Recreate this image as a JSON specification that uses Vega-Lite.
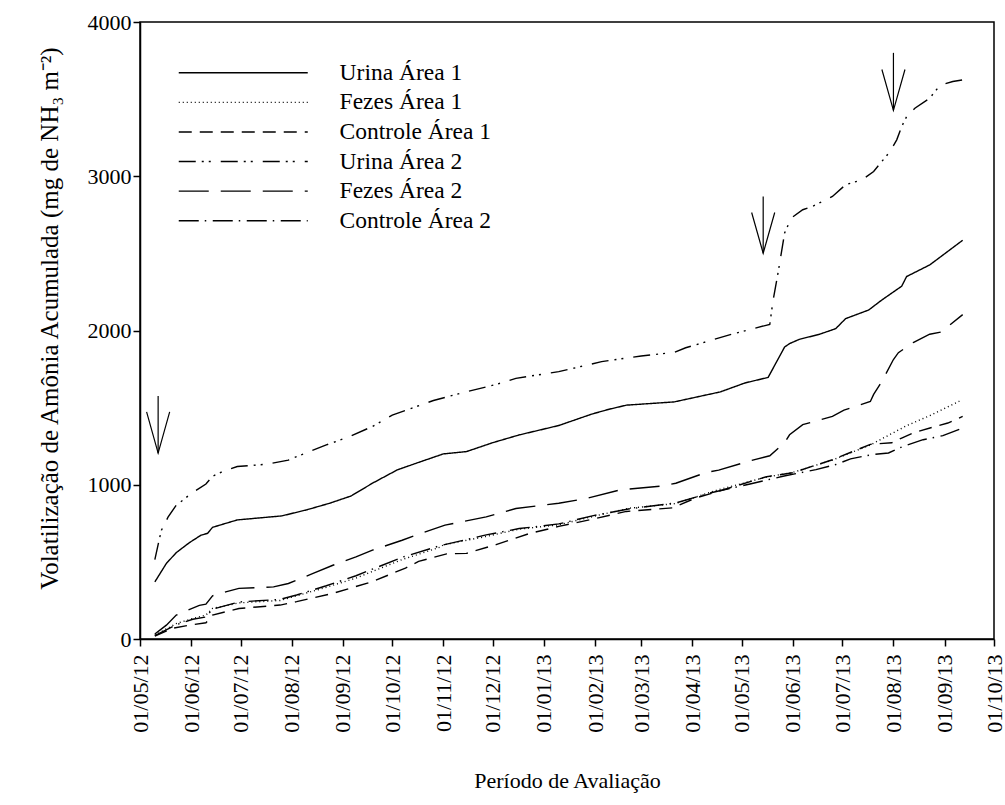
{
  "$schema": "https://vega.github.io/schema/vega-lite/v6.json",
  "autosize": {"type": "none"},
  "padding": {"left": 140, "top": 22, "right": 11, "bottom": 166},
  "width": 854,
  "height": 617,
  "background": "white",
  "view": {"stroke": "black", "strokeWidth": 1.5},
  "config": {
    "font": "'Liberation Serif', 'Times New Roman', serif",
    "axis": {
      "grid": false,
      "domainColor": "black",
      "domainWidth": 1.5,
      "tickColor": "black",
      "tickWidth": 1.5,
      "tickSize": 7,
      "labelFont": "'Liberation Serif', 'Times New Roman', serif",
      "labelFontSize": 22,
      "labelColor": "black",
      "titleFont": "'Liberation Serif', 'Times New Roman', serif",
      "titleFontSize": 22,
      "titleFontWeight": "normal",
      "titleColor": "black"
    },
    "legend": {
      "labelFont": "'Liberation Serif', 'Times New Roman', serif",
      "labelFontSize": 23.5,
      "labelColor": "black"
    }
  },
  "datasets": {
    "series": [
      {"s": "Urina Área 1", "d": "2012-05-10", "v": 370},
      {"s": "Urina Área 1", "d": "2012-05-17", "v": 490},
      {"s": "Urina Área 1", "d": "2012-05-23", "v": 560},
      {"s": "Urina Área 1", "d": "2012-05-31", "v": 625},
      {"s": "Urina Área 1", "d": "2012-06-07", "v": 673},
      {"s": "Urina Área 1", "d": "2012-06-11", "v": 685},
      {"s": "Urina Área 1", "d": "2012-06-14", "v": 724},
      {"s": "Urina Área 1", "d": "2012-06-29", "v": 772},
      {"s": "Urina Área 1", "d": "2012-07-26", "v": 798},
      {"s": "Urina Área 1", "d": "2012-08-10", "v": 837},
      {"s": "Urina Área 1", "d": "2012-08-24", "v": 880},
      {"s": "Urina Área 1", "d": "2012-09-06", "v": 927},
      {"s": "Urina Área 1", "d": "2012-09-19", "v": 1010},
      {"s": "Urina Área 1", "d": "2012-10-04", "v": 1096},
      {"s": "Urina Área 1", "d": "2012-10-17", "v": 1145},
      {"s": "Urina Área 1", "d": "2012-11-01", "v": 1200},
      {"s": "Urina Área 1", "d": "2012-11-15", "v": 1215},
      {"s": "Urina Área 1", "d": "2012-12-01", "v": 1273},
      {"s": "Urina Área 1", "d": "2012-12-17", "v": 1323},
      {"s": "Urina Área 1", "d": "2013-01-10", "v": 1384},
      {"s": "Urina Área 1", "d": "2013-01-30", "v": 1458},
      {"s": "Urina Área 1", "d": "2013-02-09", "v": 1488},
      {"s": "Urina Área 1", "d": "2013-02-20", "v": 1516},
      {"s": "Urina Área 1", "d": "2013-03-21", "v": 1537},
      {"s": "Urina Área 1", "d": "2013-04-18", "v": 1602},
      {"s": "Urina Área 1", "d": "2013-05-03", "v": 1660},
      {"s": "Urina Área 1", "d": "2013-05-17", "v": 1696},
      {"s": "Urina Área 1", "d": "2013-05-27", "v": 1893},
      {"s": "Urina Área 1", "d": "2013-05-30", "v": 1915},
      {"s": "Urina Área 1", "d": "2013-06-05", "v": 1943},
      {"s": "Urina Área 1", "d": "2013-06-17", "v": 1975},
      {"s": "Urina Área 1", "d": "2013-06-27", "v": 2012},
      {"s": "Urina Área 1", "d": "2013-07-03", "v": 2077},
      {"s": "Urina Área 1", "d": "2013-07-17", "v": 2133},
      {"s": "Urina Área 1", "d": "2013-07-25", "v": 2198},
      {"s": "Urina Área 1", "d": "2013-08-01", "v": 2250},
      {"s": "Urina Área 1", "d": "2013-08-06", "v": 2287},
      {"s": "Urina Área 1", "d": "2013-08-09", "v": 2350},
      {"s": "Urina Área 1", "d": "2013-08-23", "v": 2425},
      {"s": "Urina Área 1", "d": "2013-09-12", "v": 2585},

      {"s": "Fezes Área 1", "d": "2012-05-10", "v": 25},
      {"s": "Fezes Área 1", "d": "2012-05-23", "v": 100},
      {"s": "Fezes Área 1", "d": "2012-06-02", "v": 133},
      {"s": "Fezes Área 1", "d": "2012-06-10", "v": 155},
      {"s": "Fezes Área 1", "d": "2012-06-14", "v": 198},
      {"s": "Fezes Área 1", "d": "2012-06-30", "v": 234},
      {"s": "Fezes Área 1", "d": "2012-07-25", "v": 250},
      {"s": "Fezes Área 1", "d": "2012-08-04", "v": 280},
      {"s": "Fezes Área 1", "d": "2012-08-22", "v": 335},
      {"s": "Fezes Área 1", "d": "2012-09-09", "v": 395},
      {"s": "Fezes Área 1", "d": "2012-09-23", "v": 455},
      {"s": "Fezes Área 1", "d": "2012-10-07", "v": 515},
      {"s": "Fezes Área 1", "d": "2012-10-30", "v": 595},
      {"s": "Fezes Área 1", "d": "2012-11-01", "v": 610},
      {"s": "Fezes Área 1", "d": "2012-11-27", "v": 665},
      {"s": "Fezes Área 1", "d": "2012-12-17", "v": 712},
      {"s": "Fezes Área 1", "d": "2013-01-10", "v": 740},
      {"s": "Fezes Área 1", "d": "2013-01-31", "v": 795},
      {"s": "Fezes Área 1", "d": "2013-02-22", "v": 848},
      {"s": "Fezes Área 1", "d": "2013-03-22", "v": 878},
      {"s": "Fezes Área 1", "d": "2013-04-13", "v": 955},
      {"s": "Fezes Área 1", "d": "2013-04-17", "v": 968},
      {"s": "Fezes Área 1", "d": "2013-05-16", "v": 1050},
      {"s": "Fezes Área 1", "d": "2013-06-01", "v": 1080},
      {"s": "Fezes Área 1", "d": "2013-06-25", "v": 1160},
      {"s": "Fezes Área 1", "d": "2013-07-18", "v": 1258},
      {"s": "Fezes Área 1", "d": "2013-08-09", "v": 1383},
      {"s": "Fezes Área 1", "d": "2013-08-23", "v": 1448},
      {"s": "Fezes Área 1", "d": "2013-09-10", "v": 1542},

      {"s": "Controle Área 1", "d": "2012-05-10", "v": 18},
      {"s": "Controle Área 1", "d": "2012-05-21", "v": 70},
      {"s": "Controle Área 1", "d": "2012-05-31", "v": 90},
      {"s": "Controle Área 1", "d": "2012-06-10", "v": 105},
      {"s": "Controle Área 1", "d": "2012-06-14", "v": 155},
      {"s": "Controle Área 1", "d": "2012-06-30", "v": 198},
      {"s": "Controle Área 1", "d": "2012-07-25", "v": 220},
      {"s": "Controle Área 1", "d": "2012-08-04", "v": 242},
      {"s": "Controle Área 1", "d": "2012-08-26", "v": 296},
      {"s": "Controle Área 1", "d": "2012-09-19", "v": 372},
      {"s": "Controle Área 1", "d": "2012-10-09", "v": 460},
      {"s": "Controle Área 1", "d": "2012-10-17", "v": 503},
      {"s": "Controle Área 1", "d": "2012-11-03", "v": 552},
      {"s": "Controle Área 1", "d": "2012-11-15", "v": 555},
      {"s": "Controle Área 1", "d": "2012-12-03", "v": 612},
      {"s": "Controle Área 1", "d": "2012-12-23", "v": 683},
      {"s": "Controle Área 1", "d": "2013-01-10", "v": 730},
      {"s": "Controle Área 1", "d": "2013-01-31", "v": 778},
      {"s": "Controle Área 1", "d": "2013-02-20", "v": 827},
      {"s": "Controle Área 1", "d": "2013-03-20", "v": 850},
      {"s": "Controle Área 1", "d": "2013-04-03", "v": 914},
      {"s": "Controle Área 1", "d": "2013-04-17", "v": 958},
      {"s": "Controle Área 1", "d": "2013-05-16", "v": 1052},
      {"s": "Controle Área 1", "d": "2013-06-01", "v": 1078},
      {"s": "Controle Área 1", "d": "2013-06-25", "v": 1162},
      {"s": "Controle Área 1", "d": "2013-07-18", "v": 1262},
      {"s": "Controle Área 1", "d": "2013-07-31", "v": 1272},
      {"s": "Controle Área 1", "d": "2013-08-06", "v": 1303},
      {"s": "Controle Área 1", "d": "2013-08-14", "v": 1340},
      {"s": "Controle Área 1", "d": "2013-08-27", "v": 1380},
      {"s": "Controle Área 1", "d": "2013-09-03", "v": 1400},
      {"s": "Controle Área 1", "d": "2013-09-12", "v": 1443},

      {"s": "Urina Área 2", "d": "2012-05-10", "v": 515},
      {"s": "Urina Área 2", "d": "2012-05-13", "v": 660},
      {"s": "Urina Área 2", "d": "2012-05-14", "v": 705},
      {"s": "Urina Área 2", "d": "2012-05-18", "v": 790},
      {"s": "Urina Área 2", "d": "2012-05-23", "v": 868},
      {"s": "Urina Área 2", "d": "2012-05-27", "v": 900},
      {"s": "Urina Área 2", "d": "2012-06-01", "v": 943},
      {"s": "Urina Área 2", "d": "2012-06-10", "v": 1005},
      {"s": "Urina Área 2", "d": "2012-06-14", "v": 1055},
      {"s": "Urina Área 2", "d": "2012-06-20", "v": 1085},
      {"s": "Urina Área 2", "d": "2012-06-29", "v": 1118},
      {"s": "Urina Área 2", "d": "2012-07-17", "v": 1133},
      {"s": "Urina Área 2", "d": "2012-07-30", "v": 1160},
      {"s": "Urina Área 2", "d": "2012-08-10", "v": 1208},
      {"s": "Urina Área 2", "d": "2012-08-22", "v": 1258},
      {"s": "Urina Área 2", "d": "2012-09-05", "v": 1312},
      {"s": "Urina Área 2", "d": "2012-09-19", "v": 1378},
      {"s": "Urina Área 2", "d": "2012-10-01", "v": 1452},
      {"s": "Urina Área 2", "d": "2012-10-13", "v": 1497},
      {"s": "Urina Área 2", "d": "2012-10-26", "v": 1546},
      {"s": "Urina Área 2", "d": "2012-11-12", "v": 1595},
      {"s": "Urina Área 2", "d": "2012-12-03", "v": 1650},
      {"s": "Urina Área 2", "d": "2012-12-15", "v": 1690},
      {"s": "Urina Área 2", "d": "2013-01-10", "v": 1733},
      {"s": "Urina Área 2", "d": "2013-02-05", "v": 1798},
      {"s": "Urina Área 2", "d": "2013-03-01", "v": 1835},
      {"s": "Urina Área 2", "d": "2013-03-21", "v": 1858},
      {"s": "Urina Área 2", "d": "2013-03-28", "v": 1888},
      {"s": "Urina Área 2", "d": "2013-04-23", "v": 1970},
      {"s": "Urina Área 2", "d": "2013-05-18", "v": 2040},
      {"s": "Urina Área 2", "d": "2013-05-20", "v": 2196},
      {"s": "Urina Área 2", "d": "2013-05-23", "v": 2373},
      {"s": "Urina Área 2", "d": "2013-05-27", "v": 2632},
      {"s": "Urina Área 2", "d": "2013-05-31", "v": 2729},
      {"s": "Urina Área 2", "d": "2013-06-07", "v": 2783},
      {"s": "Urina Área 2", "d": "2013-06-13", "v": 2805},
      {"s": "Urina Área 2", "d": "2013-06-25", "v": 2869},
      {"s": "Urina Área 2", "d": "2013-07-03", "v": 2945},
      {"s": "Urina Área 2", "d": "2013-07-13", "v": 2977},
      {"s": "Urina Área 2", "d": "2013-07-20", "v": 3031},
      {"s": "Urina Área 2", "d": "2013-07-30", "v": 3161},
      {"s": "Urina Área 2", "d": "2013-08-03", "v": 3236},
      {"s": "Urina Área 2", "d": "2013-08-06", "v": 3322},
      {"s": "Urina Área 2", "d": "2013-08-09", "v": 3387},
      {"s": "Urina Área 2", "d": "2013-08-14", "v": 3441},
      {"s": "Urina Área 2", "d": "2013-08-23", "v": 3506},
      {"s": "Urina Área 2", "d": "2013-08-27", "v": 3560},
      {"s": "Urina Área 2", "d": "2013-08-30", "v": 3592},
      {"s": "Urina Área 2", "d": "2013-09-06", "v": 3614},
      {"s": "Urina Área 2", "d": "2013-09-12", "v": 3625},

      {"s": "Fezes Área 2", "d": "2012-05-10", "v": 32},
      {"s": "Fezes Área 2", "d": "2012-05-17", "v": 90},
      {"s": "Fezes Área 2", "d": "2012-05-23", "v": 155},
      {"s": "Fezes Área 2", "d": "2012-05-29", "v": 183},
      {"s": "Fezes Área 2", "d": "2012-06-06", "v": 218},
      {"s": "Fezes Área 2", "d": "2012-06-10", "v": 226},
      {"s": "Fezes Área 2", "d": "2012-06-14", "v": 280},
      {"s": "Fezes Área 2", "d": "2012-06-22", "v": 306},
      {"s": "Fezes Área 2", "d": "2012-06-30", "v": 328},
      {"s": "Fezes Área 2", "d": "2012-07-21", "v": 338},
      {"s": "Fezes Área 2", "d": "2012-07-30", "v": 360},
      {"s": "Fezes Área 2", "d": "2012-08-14", "v": 425},
      {"s": "Fezes Área 2", "d": "2012-08-26", "v": 478},
      {"s": "Fezes Área 2", "d": "2012-09-09", "v": 532},
      {"s": "Fezes Área 2", "d": "2012-09-19", "v": 576},
      {"s": "Fezes Área 2", "d": "2012-10-07", "v": 640},
      {"s": "Fezes Área 2", "d": "2012-10-17", "v": 680},
      {"s": "Fezes Área 2", "d": "2012-11-02", "v": 738},
      {"s": "Fezes Área 2", "d": "2012-11-27", "v": 792},
      {"s": "Fezes Área 2", "d": "2012-12-15", "v": 846},
      {"s": "Fezes Área 2", "d": "2013-01-10", "v": 880},
      {"s": "Fezes Área 2", "d": "2013-01-27", "v": 912},
      {"s": "Fezes Área 2", "d": "2013-02-16", "v": 966},
      {"s": "Fezes Área 2", "d": "2013-03-14", "v": 992},
      {"s": "Fezes Área 2", "d": "2013-03-22", "v": 1010},
      {"s": "Fezes Área 2", "d": "2013-04-09", "v": 1078},
      {"s": "Fezes Área 2", "d": "2013-04-17", "v": 1095},
      {"s": "Fezes Área 2", "d": "2013-05-06", "v": 1155},
      {"s": "Fezes Área 2", "d": "2013-05-18", "v": 1188},
      {"s": "Fezes Área 2", "d": "2013-05-27", "v": 1274},
      {"s": "Fezes Área 2", "d": "2013-05-30", "v": 1324},
      {"s": "Fezes Área 2", "d": "2013-06-07", "v": 1390},
      {"s": "Fezes Área 2", "d": "2013-06-25", "v": 1443},
      {"s": "Fezes Área 2", "d": "2013-07-02", "v": 1484},
      {"s": "Fezes Área 2", "d": "2013-07-18", "v": 1540},
      {"s": "Fezes Área 2", "d": "2013-07-20", "v": 1586},
      {"s": "Fezes Área 2", "d": "2013-07-25", "v": 1670},
      {"s": "Fezes Área 2", "d": "2013-08-01", "v": 1812},
      {"s": "Fezes Área 2", "d": "2013-08-04", "v": 1856},
      {"s": "Fezes Área 2", "d": "2013-08-13", "v": 1922},
      {"s": "Fezes Área 2", "d": "2013-08-23", "v": 1976},
      {"s": "Fezes Área 2", "d": "2013-08-30", "v": 1990},
      {"s": "Fezes Área 2", "d": "2013-09-12", "v": 2103},

      {"s": "Controle Área 2", "d": "2012-05-10", "v": 22},
      {"s": "Controle Área 2", "d": "2012-05-23", "v": 93},
      {"s": "Controle Área 2", "d": "2012-06-02", "v": 128},
      {"s": "Controle Área 2", "d": "2012-06-10", "v": 143},
      {"s": "Controle Área 2", "d": "2012-06-14", "v": 193},
      {"s": "Controle Área 2", "d": "2012-06-30", "v": 240},
      {"s": "Controle Área 2", "d": "2012-07-25", "v": 257},
      {"s": "Controle Área 2", "d": "2012-08-04", "v": 285},
      {"s": "Controle Área 2", "d": "2012-08-22", "v": 345},
      {"s": "Controle Área 2", "d": "2012-09-09", "v": 410},
      {"s": "Controle Área 2", "d": "2012-09-23", "v": 470},
      {"s": "Controle Área 2", "d": "2012-10-07", "v": 530},
      {"s": "Controle Área 2", "d": "2012-10-30", "v": 605},
      {"s": "Controle Área 2", "d": "2012-11-27", "v": 675},
      {"s": "Controle Área 2", "d": "2012-12-17", "v": 716},
      {"s": "Controle Área 2", "d": "2013-01-10", "v": 746},
      {"s": "Controle Área 2", "d": "2013-01-31", "v": 800},
      {"s": "Controle Área 2", "d": "2013-02-22", "v": 844},
      {"s": "Controle Área 2", "d": "2013-03-22", "v": 882},
      {"s": "Controle Área 2", "d": "2013-04-13", "v": 950},
      {"s": "Controle Área 2", "d": "2013-05-06", "v": 1005},
      {"s": "Controle Área 2", "d": "2013-05-26", "v": 1055},
      {"s": "Controle Área 2", "d": "2013-06-15", "v": 1098},
      {"s": "Controle Área 2", "d": "2013-06-27", "v": 1131},
      {"s": "Controle Área 2", "d": "2013-07-06", "v": 1168},
      {"s": "Controle Área 2", "d": "2013-07-19", "v": 1195},
      {"s": "Controle Área 2", "d": "2013-07-29", "v": 1206},
      {"s": "Controle Área 2", "d": "2013-08-07", "v": 1249},
      {"s": "Controle Área 2", "d": "2013-08-19", "v": 1292},
      {"s": "Controle Área 2", "d": "2013-08-31", "v": 1318},
      {"s": "Controle Área 2", "d": "2013-09-12", "v": 1368}
    ],
    "shafts": [
      {"a": 1, "d": "2012-05-12", "top": 1575, "tip": 1205},
      {"a": 2, "d": "2013-05-14", "top": 2869, "tip": 2501},
      {"a": 3, "d": "2013-08-01", "top": 3800, "tip": 3427}
    ],
    "heads": [
      {"a": 1, "d": "2012-05-05", "v": 1473},
      {"a": 1, "d": "2012-05-12", "v": 1205},
      {"a": 1, "d": "2012-05-19", "v": 1473},
      {"a": 2, "d": "2013-05-07", "v": 2765},
      {"a": 2, "d": "2013-05-14", "v": 2501},
      {"a": 2, "d": "2013-05-21", "v": 2765},
      {"a": 3, "d": "2013-07-25", "v": 3692},
      {"a": 3, "d": "2013-08-01", "v": 3427},
      {"a": 3, "d": "2013-08-08", "v": 3692}
    ]
  },
  "encoding": {
    "x": {
      "field": "d",
      "type": "temporal",
      "scale": {
        "type": "utc",
        "domain": [
          {"year": 2012, "month": 5, "date": 1, "utc": true},
          {"year": 2013, "month": 10, "date": 1, "utc": true}
        ]
      },
      "axis": {
        "title": "Período de Avaliação",
        "format": "%d/%m/%y",
        "tickCount": {"interval": "month", "step": 1},
        "labelAngle": -90,
        "labelPadding": 8,
        "labelOverlap": false,
        "labelFlush": false,
        "labelBound": false,
        "labelFont": "'Liberation Serif', 'Times New Roman', serif",
        "titleFont": "'Liberation Serif', 'Times New Roman', serif",
        "titlePadding": 38
      }
    }
  },
  "layer": [
    {
      "data": {"name": "series"},
      "mark": {"type": "line", "color": "black", "strokeWidth": 1.4, "interpolate": "linear"},
      "encoding": {
        "y": {
          "field": "v",
          "type": "quantitative",
          "scale": {"domain": [0, 4000], "nice": false},
          "axis": {
            "title": "Volatilização de Amônia Acumulada (mg de NH₃ m⁻²)",
            "titleFontSize": 25,
            "titleY": 296,
            "values": [0, 1000, 2000, 3000, 4000],
            "format": "d",
            "labelPadding": 2,
            "labelFont": "'Liberation Serif', 'Times New Roman', serif",
            "titleFont": "'Liberation Serif', 'Times New Roman', serif",
            "titlePadding": 25
          }
        },
        "strokeDash": {
          "field": "s",
          "type": "nominal",
          "scale": {
            "domain": ["Urina Área 1", "Fezes Área 1", "Controle Área 1", "Urina Área 2", "Fezes Área 2", "Controle Área 2"],
            "range": [[1, 0], [1, 3], [13, 8], [17, 6, 2, 5, 2, 10], [30, 12], [20, 6, 1.5, 6.5]]
          },
          "legend": {
            "title": null,
            "orient": "none",
            "legendX": 91.5,
            "legendY": 39,
            "symbolType": "M-10,0H10",
            "symbolSize": 166.4,
            "symbolStrokeWidth": 1.4,
            "symbolStrokeColor": "black",
            "symbolFillColor": "transparent",
            "labelOffset": 84.6,
            "rowPadding": 4.6,
            "padding": 0
          }
        }
      }
    },
    {
      "data": {"name": "shafts"},
      "mark": {"type": "rule", "color": "black", "strokeWidth": 1.2},
      "encoding": {
        "y": {"field": "top", "type": "quantitative"},
        "y2": {"field": "tip"}
      }
    },
    {
      "data": {"name": "heads"},
      "mark": {"type": "line", "color": "black", "strokeWidth": 1.2},
      "encoding": {
        "y": {"field": "v", "type": "quantitative"},
        "detail": {"field": "a", "type": "nominal"}
      }
    }
  ]
}
